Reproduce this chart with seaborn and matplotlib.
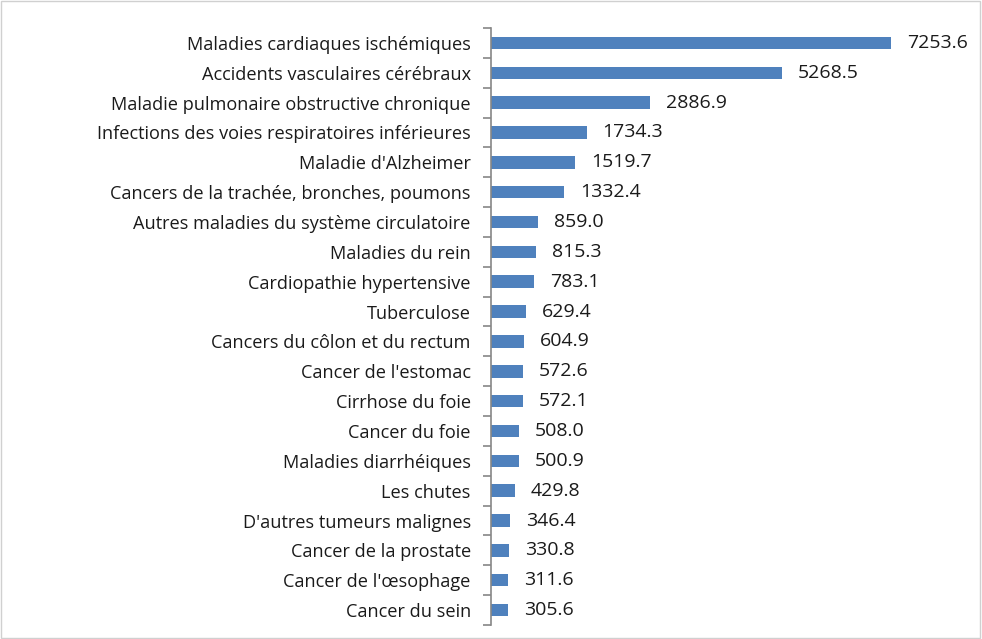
import numpy as np
import pandas as pd
import seaborn as sns
import matplotlib.pyplot as plt

causes = [
    "Maladies cardiaques ischémiques",
    "Accidents vasculaires cérébraux",
    "Maladie pulmonaire obstructive chronique",
    "Infections des voies respiratoires inférieures",
    "Maladie d'Alzheimer",
    "Cancers de la trachée, bronches, poumons",
    "Autres maladies du système circulatoire",
    "Maladies du rein",
    "Cardiopathie hypertensive",
    "Tuberculose",
    "Cancers du côlon et du rectum",
    "Cancer de l'estomac",
    "Cirrhose du foie",
    "Cancer du foie",
    "Maladies diarrhéiques",
    "Les chutes",
    "D'autres tumeurs malignes",
    "Cancer de la prostate",
    "Cancer de l'œsophage",
    "Cancer du sein",
]
deaths = [7253.6, 5268.5, 2886.9, 1734.3, 1519.7, 1332.4, 859.0, 815.3, 783.1,
          629.4, 604.9, 572.6, 572.1, 508.0, 500.9, 429.8, 346.4, 330.8, 311.6, 305.6]

df = pd.DataFrame({"cause": causes, "value": deaths})

sns.set_style("white")
plt.rcParams['font.family'] = ['Open Sans', 'DejaVu Sans']

fig = plt.figure(figsize=(9.82, 6.39), dpi=100)
ax = fig.add_axes([491 / 982, 14 / 639, 460 / 982, 597 / 639])

sns.barplot(data=df, x="value", y="cause", orient="h", color="#4F81BD",
            width=0.42, saturation=1, linewidth=0, ax=ax)

ax.set_xlim(0, 7253.6 * 460 / 400)
ax.set_ylim(len(causes) - 0.5, -0.5)
ax.set_xlabel("")
ax.set_ylabel("")
ax.set_xticks([])

# labels centred on bars, tick marks at category boundaries
ax.set_yticks(range(len(causes)))
ax.set_yticklabels(causes, fontsize=13.1, color="#1a1a1a")
ax.tick_params(axis="y", which="major", left=False, length=0, pad=14.5)
ax.set_yticks(np.arange(-0.5, len(causes), 1), minor=True)
ax.tick_params(axis="y", which="minor", left=True, length=6, color="#868686", width=1.2)

for s in ["top", "right", "bottom"]:
    ax.spines[s].set_visible(False)
ax.spines["left"].set_color("#868686")
ax.spines["left"].set_linewidth(1.2)

ax.bar_label(ax.containers[0], labels=[f"{v:.1f}" for v in deaths],
             padding=11.5, fontsize=14, color="#1a1a1a")

# light border around the whole chart
fig.patches.append(plt.Rectangle((0.001, 0.002), 0.997, 0.996, transform=fig.transFigure,
                                 fill=False, edgecolor="#d0d0d0", linewidth=1))

fig.savefig("out.png", dpi=100)
